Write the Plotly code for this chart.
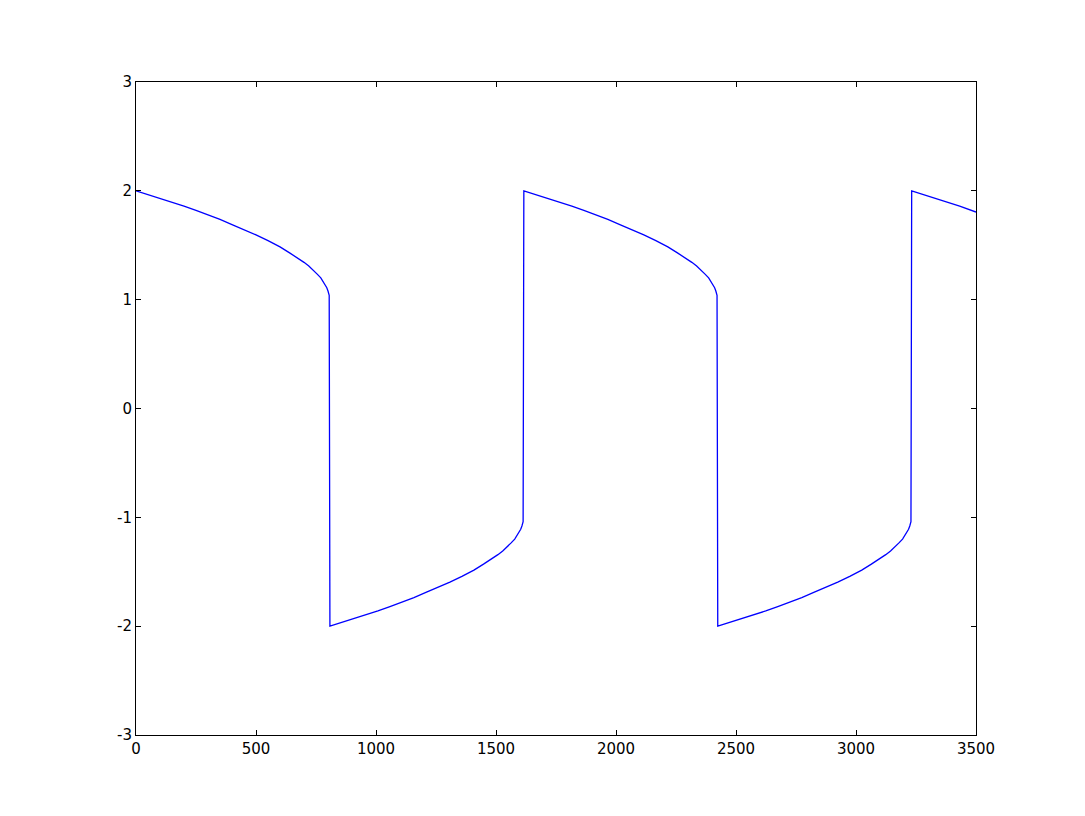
import plotly.graph_objects as go

# samples, one list per half cycle (time, value)
t_a = [0, 50, 100, 150, 200, 250, 300, 350, 400, 450, 500, 550, 600, 640, 670, 700, 720, 740, 755, 770, 780, 790, 795, 800, 803, 805]
x_a = [2.00, 1.966, 1.93, 1.895, 1.86, 1.82, 1.78, 1.737, 1.69, 1.645, 1.595, 1.542, 1.485, 1.43, 1.39, 1.343, 1.31, 1.27, 1.235, 1.20, 1.168, 1.13, 1.11, 1.08, 1.06, 1.04]

t_b = [808, 858, 908, 958, 1008, 1058, 1108, 1158, 1208, 1258, 1308, 1358, 1408, 1448, 1478, 1508, 1528, 1548, 1563, 1578, 1588, 1598, 1603, 1608, 1611, 1613]
x_b = [-2.00, -1.966, -1.93, -1.895, -1.86, -1.82, -1.78, -1.737, -1.69, -1.645, -1.595, -1.542, -1.485, -1.43, -1.39, -1.343, -1.31, -1.27, -1.235, -1.20, -1.168, -1.13, -1.11, -1.08, -1.06, -1.04]

t_c = [1616, 1666, 1716, 1766, 1816, 1866, 1916, 1966, 2016, 2066, 2116, 2166, 2216, 2256, 2286, 2316, 2336, 2356, 2371, 2386, 2396, 2406, 2411, 2416, 2419, 2421]
x_c = [2.00, 1.966, 1.93, 1.895, 1.86, 1.82, 1.78, 1.737, 1.69, 1.645, 1.595, 1.542, 1.485, 1.43, 1.39, 1.343, 1.31, 1.27, 1.235, 1.20, 1.168, 1.13, 1.11, 1.08, 1.06, 1.04]

t_d = [2424, 2474, 2524, 2574, 2624, 2674, 2724, 2774, 2824, 2874, 2924, 2974, 3024, 3064, 3094, 3124, 3144, 3164, 3179, 3194, 3204, 3214, 3219, 3224, 3227, 3229]
x_d = [-2.00, -1.966, -1.93, -1.895, -1.86, -1.82, -1.78, -1.737, -1.69, -1.645, -1.595, -1.542, -1.485, -1.43, -1.39, -1.343, -1.31, -1.27, -1.235, -1.20, -1.168, -1.13, -1.11, -1.08, -1.06, -1.04]

t_e = [3232, 3282, 3332, 3382, 3432, 3500]
x_e = [2.00, 1.966, 1.93, 1.895, 1.86, 1.805]

xticks = [0, 500, 1000, 1500, 2000, 2500, 3000, 3500]
yticks = [-3, -2, -1, 0, 1, 2, 3]
ytick_labels = ["-3", "-2", "-1", "0", "1", "2", "3"]

t = t_a + t_b + t_c + t_d + t_e
x = x_a + x_b + x_c + x_d + x_e

fig = go.Figure()
fig.add_trace(go.Scatter(x=t, y=x, mode='lines', line=dict(color='#0000ff', width=1.3),
                         showlegend=False))

axis_style = dict(showline=True, linecolor='black', linewidth=1, mirror='ticks',
                  ticks='inside', ticklen=5, tickcolor='black', tickwidth=1,
                  showgrid=False, zeroline=False,
                  tickfont=dict(family='DejaVu Sans', size=15, color='black'))

fig.update_xaxes(range=[0, 3500], tickvals=xticks, **axis_style)
fig.update_yaxes(range=[-3, 3], tickvals=yticks, ticktext=ytick_labels, **axis_style)

fig.update_layout(
    width=1085, height=816,
    margin=dict(l=128, r=117, t=74, b=89),
    plot_bgcolor='white', paper_bgcolor='white',
)

fig.write_html("out.html")
